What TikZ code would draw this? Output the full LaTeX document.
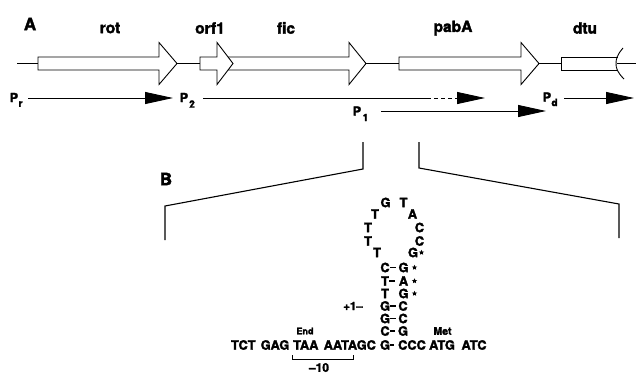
\documentclass[tikz,border=0pt]{standalone}
\usepackage{fontspec}
\setmainfont[BoldFeatures={FakeBold=2.2}]{TeX Gyre Heros}
\usetikzlibrary{arrows.meta,shapes.geometric}
\begin{document}
\begin{tikzpicture}[x=1pt,y=-1pt,
  gene/.style={draw, fill=white, line width=0.9pt, line join=miter},
  baseln/.style={line width=0.9pt},
  prom/.style={line width=0.9pt, -{Triangle[length=28pt,width=12pt]}},
  glabel/.style={font=\fontsize{15.5}{16}\selectfont\bfseries, inner sep=0},
  plabel/.style={font=\fontsize{12.5}{13}\selectfont\bfseries, inner sep=0},
  psub/.style={font=\fontsize{10}{10}\selectfont\bfseries, inner sep=0},
  panel/.style={font=\fontsize{17}{17}\selectfont\bfseries, inner sep=0},
  nt/.style={font=\fontsize{12.8}{13}\selectfont\bfseries, inner sep=0},
  starmark/.style={star, star points=5, star point ratio=2.2, fill=black, draw=none, inner sep=0, minimum size=5.5pt},
  bond/.style={line width=1.5pt, shorten <=0.3pt, shorten >=2.5pt},
  zoomline/.style={line width=1.1pt}
]
\useasboundingbox (0,0) rectangle (636,373);

% ---------- Panel A ----------
\node[panel] (A) at (30,24) {A};
\node[glabel] (lrot) at (110,28) {rot};
\node[glabel] (lorf) at (210,28) {orf1};
\node[glabel] (lfic) at (286,28) {fic};
\node[glabel] (lpab) at (453,28) {pabA};
\node[glabel] (ldtu) at (585,28) {dtu};

% baseline pieces
\draw[baseln] (17,63.5) -- (38,63.5);
\draw[baseln] (177,63.5) -- (200,63.5);
\draw[baseln] (366,63.5) -- (399,63.5);
\draw[baseln] (539,63.5) -- (561,63.5);
\draw[baseln] (616,63.5) -- (636,63.5);

% genes
\draw[gene] (38,57) -- (159,57) -- (159,42.5) -- (177,63.5) -- (159,84.5) -- (159,70) -- (38,70) -- cycle;
\draw[gene] (222,57) -- (349,57) -- (349,42.5) -- (366,63.5) -- (349,84.5) -- (349,70) -- (222,70) -- cycle;
\draw[gene] (200,57) -- (217,57) -- (217,42.5) -- (233,63.5) -- (217,84.5) -- (217,70) -- (200,70) -- cycle;
\draw[gene] (399,57) -- (521,57) -- (521,42.5) -- (539,63.5) -- (521,84.5) -- (521,70) -- (399,70) -- cycle;
\fill[white] (561,57) rectangle (617,70);
\draw[gene, fill=none] (617.5,57) -- (561,57) -- (561,70) -- (617.5,70);
\draw[line width=0.9pt] (623,48) .. controls (617,55) and (616,59) .. (616,63.5) .. controls (616,68) and (617,72) .. (624,79);

% promoters
\node[plabel] (pr) at (14,97.5) {P};
\node[psub] (prs) at (20.5,104) {r};
\coordinate (pra) at (28,98);
\coordinate (prb) at (173,98);
\draw[prom] (pra) -- (prb);

\node[plabel] (p2) at (184,97.5) {P};
\node[psub] (p2s) at (192,104) {2};
\coordinate (p2a) at (203,98);
\coordinate (p2b) at (431,98);
\coordinate (p2c) at (434,98);
\coordinate (p2d) at (485,98);
\draw[baseln] (p2a) -- (p2b);
\draw[prom, dash pattern=on 4pt off 3pt] (p2c) -- (p2d);

\node[plabel] (p1) at (357,111) {P};
\node[psub] (p1s) at (365.5,117.5) {1};
\coordinate (p1a) at (381,111);
\coordinate (p1b) at (546,111);
\draw[prom] (p1a) -- (p1b);

\node[plabel] (pd) at (547,97) {P};
\node[psub] (pds) at (554.5,102.5) {d};
\coordinate (pda) at (564,98);
\coordinate (pdb) at (634,98);
\draw[prom] (pda) -- (pdb);

% ---------- Panel B ----------
\node[panel] (B) at (166,179) {B};
\draw[zoomline] (165,240) -- (165,206) -- (363,169) -- (363,142);
\draw[zoomline] (419,142) -- (419,168) -- (619,204) -- (619,238);

% loop
\node[nt] (l1) at (385.5,202.5) {G};
\node[nt] (r1) at (403.5,202.5) {T};
\node[nt] (l2) at (375,214) {T};
\node[nt] (r2) at (412.5,214) {A};
\node[nt] (l3) at (368,227.5) {T};
\node[nt] (r3) at (419.5,227.5) {C};
\node[nt] (l4) at (368,241) {T};
\node[nt] (r4) at (419.5,241) {C};
\node[nt] (l5) at (377,252.5) {T};
\node[nt] (r5) at (413,252.5) {G};
\node[starmark] (s5) at (421.5,252.5) {};

% stem
\node[nt] (sl1) at (385,267.5) {C};
\node[nt] (sr1) at (403.5,267.5) {G};
\node[starmark] (ss1) at (414.5,267.5) {};
\node[nt] (sl2) at (385,281) {T};
\node[nt] (sr2) at (403.5,281) {A};
\node[starmark] (ss2) at (414.5,281) {};
\node[nt] (sl3) at (385,293.5) {T};
\node[nt] (sr3) at (403.5,293.5) {G};
\node[starmark] (ss3) at (414.5,293.5) {};
\node[nt] (sl4) at (385,306) {G};
\node[nt] (sr4) at (403,306) {C};
\node[nt] (sl5) at (385,318.5) {G};
\node[nt] (sr5) at (403,318.5) {C};
\node[nt] (sl6) at (385,331) {C};
\node[nt] (sr6) at (403,331) {G};
\draw[bond] (sl1) -- (sr1);
\draw[bond, shorten >=4pt] (sl2) -- (sr2);
\draw[bond] (sl4) -- (sr4);
\draw[bond] (sl5) -- (sr5);
\draw[bond] (sl6) -- (sr6);

% bottom sequence
\node[nt] (w1) at (243.3,345) {TCT};
\node[nt] (w2) at (275,345) {GAG};
\node[nt] (w3) at (305.8,345) {TAA};
\node[nt] (w4) at (349.8,345) {AATAGC};
\node[nt] (w5) at (385,345) {G};
\node[nt] (w6) at (412,345) {CCC};
\node[nt] (w7) at (442,345) {ATG};
\node[nt] (w8) at (474,345) {ATC};
\draw[bond, shorten >=3.5pt] (w5) -- (w6.west);

\node[font=\fontsize{9}{9}\selectfont\bfseries, inner sep=0] (end) at (305,331) {End};
\node[font=\fontsize{10.5}{10.5}\selectfont\bfseries, inner sep=0] (met) at (442.5,331) {Met};
\node[font=\fontsize{11.5}{11.5}\selectfont\bfseries, inner sep=0] (plus1) at (353,306) {+1–};
\node[font=\fontsize{12}{12}\selectfont\bfseries, inner sep=0] (m10) at (319,367.5) {–10};
\coordinate (bra) at (292,355);
\coordinate (brb) at (353,355);
\draw[line width=0.9pt] (bra) -- ++(0,4) -| (brb);
\end{tikzpicture}
\end{document}
